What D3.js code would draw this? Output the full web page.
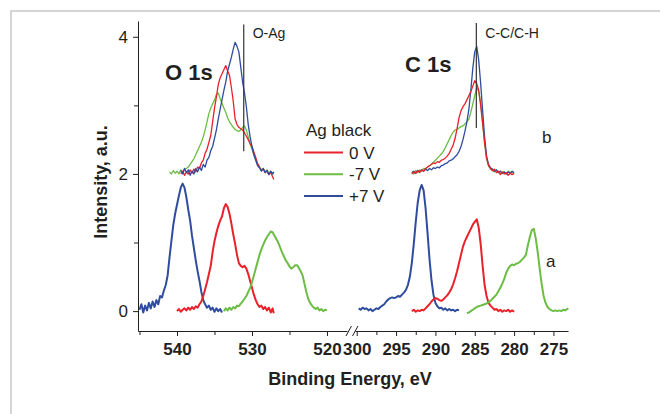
<!DOCTYPE html>
<html>
<head>
<meta charset="utf-8">
<title>XPS Ag black</title>
<script src="https://d3js.org/d3.v7.min.js"></script>
<style>
  body { margin: 0; background: #fff; }
  text { font-family: "Liberation Sans", Arial, sans-serif; fill: #231f20; }
</style>
</head>
<body>
<script>
// ---- data (binding energy eV, intensity a.u.) ----
// O 1s, curve a (lower)
var oLowBlue = [[545.0,.02],[544.75,.10],[544.5,-.02],[544.25,.08],[544.0,.01],[543.75,.12],[543.5,.04],[543.25,.14],[543.0,.06],[542.75,.16],[542.5,.10],[542.25,.22],[542.0,.20],[541.75,.30],[541.5,.38],[541.25,.52],[541.0,.78],[540.75,1.02],[540.5,1.25],[540.25,1.42],[540.0,1.55],[539.75,1.68],[539.5,1.80],[539.25,1.86],[539.0,1.80],[538.75,1.66],[538.5,1.48],[538.25,1.32],[538.0,1.10],[537.75,.92],[537.5,.74],[537.25,.58],[537.0,.44],[536.75,.28],[536.5,.16],[536.25,.10],[536.0,.05],[535.75,.08],[535.5,.02],[535.25,.05],[535.0,-.01],[534.75,.04],[534.5,.00],[534.25,.03],[534.0,-.02]];
var oLowRed = [[540.0,.00],[539.75,.03],[539.5,-.01],[539.25,.02],[539.0,.04],[538.75,.01],[538.5,.05],[538.25,.02],[538.0,.06],[537.75,.03],[537.5,.07],[537.25,.05],[537.0,.10],[536.75,.14],[536.5,.22],[536.25,.32],[536.0,.42],[535.75,.54],[535.5,.66],[535.25,.86],[535.0,1.02],[534.75,1.14],[534.5,1.24],[534.25,1.32],[534.0,1.38],[533.75,1.50],[533.5,1.56],[533.25,1.52],[533.0,1.42],[532.75,1.28],[532.5,1.12],[532.25,.98],[532.0,.82],[531.75,.70],[531.5,.66],[531.25,.64],[531.0,.66],[530.75,.62],[530.5,.54],[530.25,.44],[530.0,.34],[529.75,.24],[529.5,.16],[529.25,.10],[529.0,.06],[528.75,.08],[528.5,.03],[528.25,.06],[528.0,.01],[527.75,.05],[527.5,-.02],[527.25,.04],[527.1,-.03]];
var oLowGreen = [[533.75,.00],[533.5,.04],[533.25,.01],[533.0,.05],[532.75,.02],[532.5,.06],[532.25,.04],[532.0,.08],[531.75,.07],[531.5,.11],[531.25,.14],[531.0,.18],[530.75,.22],[530.5,.28],[530.25,.34],[530.0,.42],[529.75,.52],[529.5,.62],[529.25,.72],[529.0,.82],[528.75,.90],[528.5,.97],[528.25,1.03],[528.0,1.08],[527.75,1.12],[527.5,1.16],[527.25,1.15],[527.0,1.10],[526.75,1.05],[526.5,1.00],[526.25,.93],[526.0,.86],[525.75,.80],[525.5,.74],[525.25,.70],[525.0,.65],[524.75,.62],[524.5,.64],[524.25,.67],[524.0,.67],[523.75,.63],[523.5,.58],[523.25,.52],[523.0,.40],[522.75,.28],[522.5,.18],[522.25,.12],[522.0,.08],[521.75,.05],[521.5,.03],[521.25,.05],[521.0,.01],[520.75,.03],[520.5,.00],[520.25,.02],[520.0,.01]];

// O 1s, curve b (upper)
var oUpBlue = [[539.5,2.05],[539.25,2.00],[539.0,2.08],[538.75,2.02],[538.5,2.06],[538.25,1.98],[538.0,2.04],[537.75,2.00],[537.5,2.08],[537.25,2.03],[537.0,2.10],[536.75,2.05],[536.5,2.14],[536.25,2.10],[536.0,2.20],[535.75,2.24],[535.5,2.34],[535.25,2.40],[535.0,2.52],[534.75,2.64],[534.5,2.80],[534.25,2.94],[534.0,3.08],[533.75,3.22],[533.5,3.34],[533.25,3.50],[533.0,3.60],[532.75,3.70],[532.5,3.82],[532.25,3.92],[532.0,3.86],[531.75,3.78],[531.5,3.56],[531.25,3.34],[531.0,3.18],[530.75,2.98],[530.5,2.72],[530.25,2.54],[530.0,2.40],[529.75,2.28],[529.5,2.20],[529.25,2.12],[529.0,2.09],[528.75,2.04],[528.5,2.08],[528.25,2.02],[528.0,2.05],[527.75,1.99],[527.5,2.04],[527.25,2.00],[527.1,2.03]];
var oUpRed = [[539.5,2.00],[539.25,2.04],[539.0,1.98],[538.75,2.03],[538.5,2.00],[538.25,2.06],[538.0,2.01],[537.75,2.07],[537.5,2.03],[537.25,2.10],[537.0,2.08],[536.75,2.16],[536.5,2.20],[536.25,2.30],[536.0,2.36],[535.75,2.46],[535.5,2.56],[535.25,2.76],[535.0,2.96],[534.75,3.12],[534.5,3.30],[534.25,3.40],[534.0,3.46],[533.75,3.52],[533.5,3.58],[533.25,3.50],[533.0,3.44],[532.75,3.26],[532.5,3.06],[532.25,2.80],[532.0,2.72],[531.75,2.68],[531.5,2.66],[531.25,2.64],[531.0,2.60],[530.75,2.55],[530.5,2.50],[530.25,2.44],[530.0,2.40],[529.75,2.32],[529.5,2.24],[529.25,2.15],[529.0,2.10],[528.75,2.05],[528.5,2.07],[528.25,2.02],[528.0,2.04],[527.75,1.99],[527.5,2.02],[527.25,1.96],[527.1,1.92]];
var oUpGreen = [[541.0,2.03],[540.75,2.00],[540.5,2.05],[540.25,2.01],[540.0,2.04],[539.75,2.00],[539.5,2.06],[539.25,2.02],[539.0,2.07],[538.75,2.08],[538.5,2.10],[538.25,2.14],[538.0,2.18],[537.75,2.22],[537.5,2.28],[537.25,2.34],[537.0,2.40],[536.75,2.46],[536.5,2.54],[536.25,2.64],[536.0,2.76],[535.75,2.88],[535.5,2.96],[535.25,3.02],[535.0,3.08],[534.75,3.16],[534.5,3.18],[534.25,3.10],[534.0,3.03],[533.75,2.96],[533.5,2.90],[533.25,2.82],[533.0,2.76],[532.75,2.72],[532.5,2.68],[532.25,2.65],[532.0,2.63],[531.75,2.62],[531.5,2.64],[531.25,2.68],[531.0,2.70],[530.75,2.64],[530.5,2.54],[530.25,2.44],[530.0,2.36],[529.75,2.28],[529.5,2.20],[529.25,2.14],[529.0,2.10],[528.75,2.06],[528.5,2.08],[528.25,2.03],[528.0,2.06],[527.75,2.01],[527.5,2.04],[527.25,2.00],[527.1,2.03]];

// C 1s, curve a (lower)
var cLowBlue = [[299.75,.04],[299.5,.02],[299.25,.05],[299.0,.03],[298.75,.04],[298.5,.01],[298.25,.03],[298.0,.00],[297.75,.02],[297.5,.04],[297.25,.03],[297.0,.06],[296.75,.08],[296.5,.10],[296.25,.14],[296.0,.17],[295.75,.19],[295.5,.20],[295.25,.19],[295.0,.20],[294.75,.22],[294.5,.21],[294.25,.24],[294.0,.27],[293.75,.31],[293.5,.38],[293.25,.50],[293.0,.70],[292.75,.98],[292.5,1.30],[292.25,1.58],[292.0,1.76],[291.75,1.84],[291.5,1.76],[291.25,1.50],[291.0,1.14],[290.75,.76],[290.5,.45],[290.25,.24],[290.0,.12],[289.75,.07],[289.5,.04],[289.25,.05],[289.0,.02],[288.75,.04],[288.5,.01],[288.25,.03],[288.0,.01],[287.75,.02],[287.5,.00],[287.25,.02],[287.0,.01]];
var cLowRed = [[293.0,.00],[292.75,.02],[292.5,-.01],[292.25,.01],[292.0,.00],[291.75,.02],[291.5,.01],[291.25,.04],[291.0,.07],[290.75,.10],[290.5,.14],[290.25,.17],[290.0,.19],[289.75,.18],[289.5,.16],[289.25,.15],[289.0,.17],[288.75,.20],[288.5,.23],[288.25,.27],[288.0,.32],[287.75,.39],[287.5,.48],[287.25,.58],[287.0,.70],[286.75,.82],[286.5,.94],[286.25,1.02],[286.0,1.08],[285.75,1.14],[285.5,1.20],[285.25,1.26],[285.0,1.30],[284.75,1.34],[284.5,1.22],[284.25,.98],[284.0,.66],[283.75,.38],[283.5,.22],[283.25,.12],[283.0,.08],[282.75,.05],[282.5,.02],[282.25,.03],[282.0,.00],[281.75,.02],[281.5,-.01],[281.25,.01],[281.0,.00],[280.75,.02],[280.5,-.01],[280.25,.01],[280.0,-.01]];
var cLowGreen = [[286.0,-.03],[285.75,-.02],[285.5,.00],[285.25,.02],[285.0,.04],[284.75,.06],[284.5,.07],[284.25,.08],[284.0,.09],[283.75,.10],[283.5,.11],[283.25,.13],[283.0,.15],[282.75,.18],[282.5,.21],[282.25,.24],[282.0,.29],[281.75,.34],[281.5,.40],[281.25,.47],[281.0,.56],[280.75,.62],[280.5,.66],[280.25,.68],[280.0,.67],[279.75,.69],[279.5,.70],[279.25,.72],[279.0,.75],[278.75,.78],[278.5,.82],[278.25,.96],[278.0,1.08],[277.75,1.18],[277.5,1.20],[277.25,1.06],[277.0,.86],[276.75,.62],[276.5,.40],[276.25,.22],[276.0,.12],[275.75,.06],[275.5,.03],[275.25,.01],[275.0,.00],[274.75,.01],[274.5,.00],[274.25,.01],[274.0,.00],[273.75,.02],[273.5,.01],[273.25,.03],[273.1,.04]];

// C 1s, curve b (upper)
var cUpBlue = [[293.0,2.02],[292.75,2.04],[292.5,2.01],[292.25,2.05],[292.0,2.03],[291.75,2.06],[291.5,2.04],[291.25,2.07],[291.0,2.05],[290.75,2.08],[290.5,2.06],[290.25,2.09],[290.0,2.08],[289.75,2.10],[289.5,2.09],[289.25,2.12],[289.0,2.13],[288.75,2.15],[288.5,2.16],[288.25,2.19],[288.0,2.20],[287.75,2.22],[287.5,2.25],[287.25,2.28],[287.0,2.33],[286.75,2.40],[286.5,2.50],[286.25,2.62],[286.0,2.76],[285.75,2.94],[285.5,3.22],[285.25,3.54],[285.0,3.78],[284.75,3.86],[284.5,3.66],[284.25,3.32],[284.0,2.92],[283.75,2.54],[283.5,2.26],[283.25,2.14],[283.0,2.09],[282.75,2.07],[282.5,2.04],[282.25,2.06],[282.0,2.02],[281.75,2.04],[281.5,2.01],[281.25,2.03],[281.0,2.00],[280.75,2.03],[280.5,2.01],[280.25,2.04],[280.0,2.02]];
var cUpRed = [[293.0,2.00],[292.75,2.03],[292.5,2.01],[292.25,2.05],[292.0,2.02],[291.75,2.06],[291.5,2.04],[291.25,2.08],[291.0,2.10],[290.75,2.12],[290.5,2.14],[290.25,2.16],[290.0,2.15],[289.75,2.18],[289.5,2.17],[289.25,2.20],[289.0,2.21],[288.75,2.23],[288.5,2.26],[288.25,2.30],[288.0,2.36],[287.75,2.42],[287.5,2.52],[287.25,2.66],[287.0,2.82],[286.75,2.92],[286.5,2.98],[286.25,3.02],[286.0,3.08],[285.75,3.14],[285.5,3.20],[285.25,3.28],[285.0,3.36],[284.75,3.32],[284.5,3.22],[284.25,3.00],[284.0,2.74],[283.75,2.46],[283.5,2.24],[283.25,2.12],[283.0,2.08],[282.75,2.05],[282.5,2.07],[282.25,2.02],[282.0,2.04],[281.75,1.99],[281.5,2.03],[281.25,2.00],[281.0,2.02],[280.75,1.98],[280.5,2.01],[280.25,1.99],[280.0,2.01]];
var cUpGreen = [[293.0,2.03],[292.75,2.00],[292.5,2.05],[292.25,2.02],[292.0,2.06],[291.75,2.04],[291.5,2.08],[291.25,2.07],[291.0,2.10],[290.75,2.12],[290.5,2.14],[290.25,2.17],[290.0,2.20],[289.75,2.23],[289.5,2.26],[289.25,2.29],[289.0,2.33],[288.75,2.38],[288.5,2.44],[288.25,2.50],[288.0,2.56],[287.75,2.61],[287.5,2.64],[287.25,2.65],[287.0,2.67],[286.75,2.69],[286.5,2.70],[286.25,2.73],[286.0,2.76],[285.75,2.80],[285.5,2.90],[285.25,3.02],[285.0,3.14],[284.75,3.26],[284.5,3.20],[284.25,3.04],[284.0,2.74],[283.75,2.44],[283.5,2.22],[283.25,2.12],[283.0,2.07],[282.75,2.05],[282.5,2.03],[282.25,2.06],[282.0,2.02],[281.75,2.04],[281.5,2.01],[281.25,2.03],[281.0,2.00],[280.75,2.04],[280.5,2.02],[280.25,2.03],[280.0,2.01]];

// legend, ticks and marker lines
var legendLabels = ["0 V", "-7 V", "+7 V"];
var yTicks = [0, 2, 4];
var yMinor = [1, 3];
var xTicksO = [540, 530, 520];
var xMinorO = [545, 535, 525];
var xTicksC = [300, 295, 290, 285, 280, 275];
var xMinorC = [297.5, 292.5, 287.5, 282.5, 277.5];
var markO = {e: 531.1, top: 4.18, bottom: 2.33, label: "O-Ag"};
var markC = {e: 284.8, top: 4.2, bottom: 2.67, label: "C-C/C-H"};

var colors = {red: "#e8212b", green: "#6cbd45", blue: "#2f4c9e"};

var svg = d3.select("body").append("svg")
    .attr("width", 660)
    .attr("height", 414);

svg.append("rect").attr("width", 660).attr("height", 414).attr("fill", "#fff");

//outer frame
svg.append("rect")
   .attr("x", 11).attr("y", 11)
   .attr("width", 700).attr("height", 450)
   .attr("fill", "none")
   .attr("stroke", "#c8c8c8")
   .attr("stroke-width", 1.5);

//scales
var y = d3.scaleLinear().domain([-0.29, 4.23]).range([331, 21]);
var xO = d3.scaleLinear().domain([545.2, 517.33]).range([138, 347]);
var xC = d3.scaleLinear().domain([300.22, 273.15]).range([355, 568]);

//axes
function styleAxis(g){
    g.selectAll("path, line").attr("stroke", "#231f20").attr("stroke-width", 1);
    g.selectAll("text").attr("fill", "#231f20");
}

svg.append("g")
   .attr("transform", "translate(138,0)")
   .call(d3.axisLeft(y).tickValues(yTicks).tickSize(5).tickSizeOuter(0).tickPadding(5).tickFormat(d3.format("d")))
   .call(styleAxis)
   .selectAll("text").style("font-size", "17px").style("font-family", "Liberation Sans, Arial");
svg.append("g")
   .attr("transform", "translate(138,0)")
   .call(d3.axisLeft(y).tickValues(yMinor).tickSize(4).tickSizeOuter(0).tickFormat(""))
   .call(styleAxis)
   .select(".domain").remove();

function xAxis(scale, major, minor){
    var g = svg.append("g").attr("transform", "translate(0,331)");
    g.call(d3.axisBottom(scale).tickValues(major).tickSize(5).tickSizeOuter(0).tickPadding(7).tickFormat(d3.format("d")))
     .call(styleAxis);
    g.selectAll("text")
     .style("font-size", "17px").style("font-weight", "bold")
     .style("font-family", "Liberation Sans, Arial");
    var m = svg.append("g").attr("transform", "translate(0,331)");
    m.call(d3.axisBottom(scale).tickValues(minor).tickSize(4).tickSizeOuter(0).tickFormat(""))
     .call(styleAxis);
    m.select(".domain").remove();
}
xAxis(xO, xTicksO, xMinorO);
xAxis(xC, xTicksC, xMinorC);

//axis break marks
[[346, 351.5], [352.5, 358]].forEach(function(p){
    svg.append("line")
       .attr("x1", p[0]).attr("y1", 336)
       .attr("x2", p[1]).attr("y2", 326)
       .attr("stroke", "#231f20").attr("stroke-width", 1);
});

//axis titles
svg.append("text")
   .attr("x", 350).attr("y", 385)
   .attr("text-anchor", "middle")
   .style("font-size", "18px").style("font-weight", "bold")
   .text("Binding Energy, eV");

svg.append("text")
   .attr("transform", "translate(107,182) rotate(-90)")
   .attr("text-anchor", "middle")
   .style("font-size", "18px").style("font-weight", "bold")
   .text("Intensity, a.u.");

//spectra
function drawSeries(scale, data, color, width){
    var line = d3.line().x(function(d){ return scale(d[0]); }).y(function(d){ return y(d[1]); });
    svg.append("path")
       .attr("d", line(data))
       .attr("fill", "none")
       .attr("stroke", color)
       .attr("stroke-width", width)
       .attr("stroke-linejoin", "round");
}

drawSeries(xO, oUpGreen, colors.green, 1.3);
drawSeries(xO, oUpRed, colors.red, 1.3);
drawSeries(xO, oUpBlue, colors.blue, 1.3);
drawSeries(xO, oLowBlue, colors.blue, 2);
drawSeries(xO, oLowRed, colors.red, 2);
drawSeries(xO, oLowGreen, colors.green, 2);

drawSeries(xC, cUpGreen, colors.green, 1.3);
drawSeries(xC, cUpBlue, colors.blue, 1.3);
drawSeries(xC, cUpRed, colors.red, 1.3);
drawSeries(xC, cLowBlue, colors.blue, 2);
drawSeries(xC, cLowRed, colors.red, 2);
drawSeries(xC, cLowGreen, colors.green, 2);

//reference lines
[[xO, markO], [xC, markC]].forEach(function(p){
    var sx = p[0], mk = p[1];
    svg.append("line")
       .attr("x1", sx(mk.e)).attr("x2", sx(mk.e))
       .attr("y1", y(mk.top)).attr("y2", y(mk.bottom))
       .attr("stroke", "#333").attr("stroke-width", 1.2);
    svg.append("text")
       .attr("x", sx(mk.e) + 9).attr("y", 38)
       .style("font-size", "14px")
       .text(mk.label);
});

//panel labels
svg.append("text").attr("x", 165).attr("y", 80)
   .style("font-size", "22px").style("font-weight", "bold").text("O 1s");
svg.append("text").attr("x", 405).attr("y", 72)
   .style("font-size", "22px").style("font-weight", "bold").text("C 1s");
svg.append("text").attr("x", 542).attr("y", 143)
   .style("font-size", "17px").text("b");
svg.append("text").attr("x", 546).attr("y", 267)
   .style("font-size", "17px").text("a");

//legend
var legend = svg.append("g");
legend.append("text").attr("x", 306).attr("y", 136)
      .style("font-size", "17px").text("Ag black");
var legendColors = [colors.red, colors.green, colors.blue];
legend.selectAll(".item")
      .data(legendLabels)
      .enter()
      .append("g")
      .attr("transform", function(d, i){ return "translate(0," + (152.5 + i * 21.7) + ")"; })
      .each(function(d, i){
          var g = d3.select(this);
          g.append("line").attr("x1", 304).attr("x2", 343)
           .attr("stroke", legendColors[i]).attr("stroke-width", 2);
          g.append("text").attr("x", 349).attr("y", 6)
           .style("font-size", "17px").text(d);
      });
</script>
</body>
</html>
